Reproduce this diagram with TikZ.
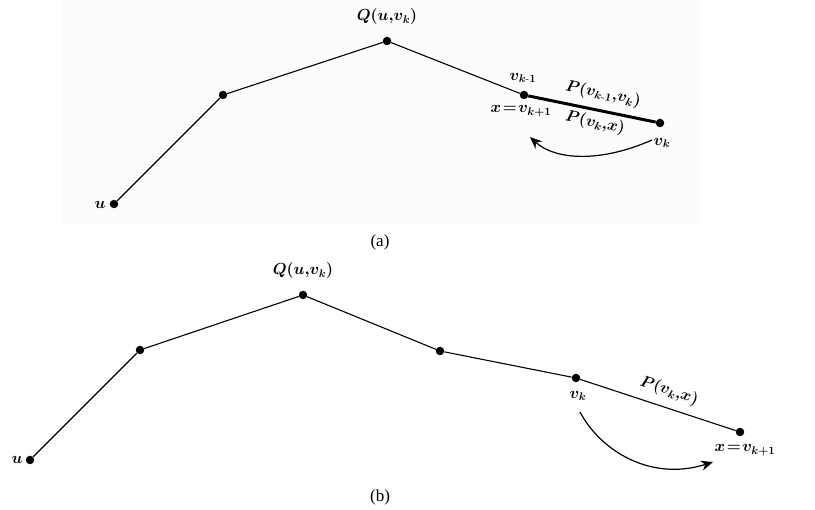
\RequirePackage{fix-cm}
\documentclass[tikz,border=0pt]{standalone}
\usepackage{amsmath}
\usepackage{fontspec}
\newfontfamily\capfont{Liberation Serif}
\usetikzlibrary{arrows.meta}
\newcommand{\tq}{\mkern1.5mu{=}\mkern1.5mu}
\begin{document}
\begin{tikzpicture}[x=1pt,y=-1pt,
  dot/.style={circle,fill=black,inner sep=0pt,minimum size=8.5pt},
  lbl/.style={font=\fontsize{16}{18}\selectfont\boldmath,inner sep=1pt},
  captext/.style={font=\capfont\fontsize{17}{19}\selectfont},
  edge/.style={line width=1.1pt},
  thickedge/.style={line width=3pt},
  movearrow/.style={line width=1.2pt,-{Stealth[length=12pt,width=10pt]}}]
\useasboundingbox (0,0) rectangle (815,510);
\fill[black!1.2] (62,0) rectangle (700,224);
% ---------- panel (a) ----------
\node[dot] (au) at (114,204) {};
\node[dot] (ap) at (223,95) {};
\node[dot] (aq) at (387,41) {};
\node[dot] (avm) at (524,95) {};
\node[dot] (avk) at (660,123) {};
\draw[edge] (au) -- (ap) -- (aq) -- (avm);
\draw[thickedge] (avm) -- (avk);
\node[lbl] (laq) at (387,17) {$Q(u{,}v_k)$};
\node[lbl] (lau) at (100,205) {$u$};
\node[lbl] (lavm) at (523,78) {$v_{k\text{-}1}$};
\node[lbl,rotate=-11.6] (lp1) at (603,94) {$P(v_{k\text{-}1}{,}v_k)$};
\node[lbl] (lax) at (521,111) {$x\tq v_{k+1}$};
\node[lbl,rotate=-11.6] (lp2) at (595,123) {$P(v_k{,}x)$};
\node[lbl] (lavk) at (662,143) {$v_k$};
\coordinate (as) at (652,140);
\coordinate (ae) at (530,137);
\draw[movearrow] (as) .. controls (600,163) and (555,160) .. (ae);
\node[captext] (capa) at (380,242) {(a)};
% ---------- panel (b) ----------
\node[dot] (bu) at (30,460) {};
\node[dot] (bp) at (140,350) {};
\node[dot] (bq) at (303,295) {};
\node[dot] (bp3) at (440,351) {};
\node[dot] (bvk) at (576,378) {};
\node[dot] (bx) at (740,432) {};
\draw[edge] (bu) -- (bp) -- (bq) -- (bp3) -- (bvk) -- (bx);
\node[lbl] (lbq) at (303,271) {$Q(u{,}v_k)$};
\node[lbl] (lbu) at (17,460) {$u$};
\node[lbl] (lbvk) at (578,396) {$v_k$};
\node[lbl,rotate=-18.2] (lbp) at (669,391) {$P(v_k{,}x)$};
\node[lbl] (lbx) at (745,450) {$x\tq v_{k+1}$};
\coordinate (bs) at (580,412);
\coordinate (be) at (713,462);
\draw[movearrow] (bs) .. controls (600,450) and (650,482) .. (be);
\node[captext] (capb) at (380,497) {(b)};
\end{tikzpicture}
\end{document}
